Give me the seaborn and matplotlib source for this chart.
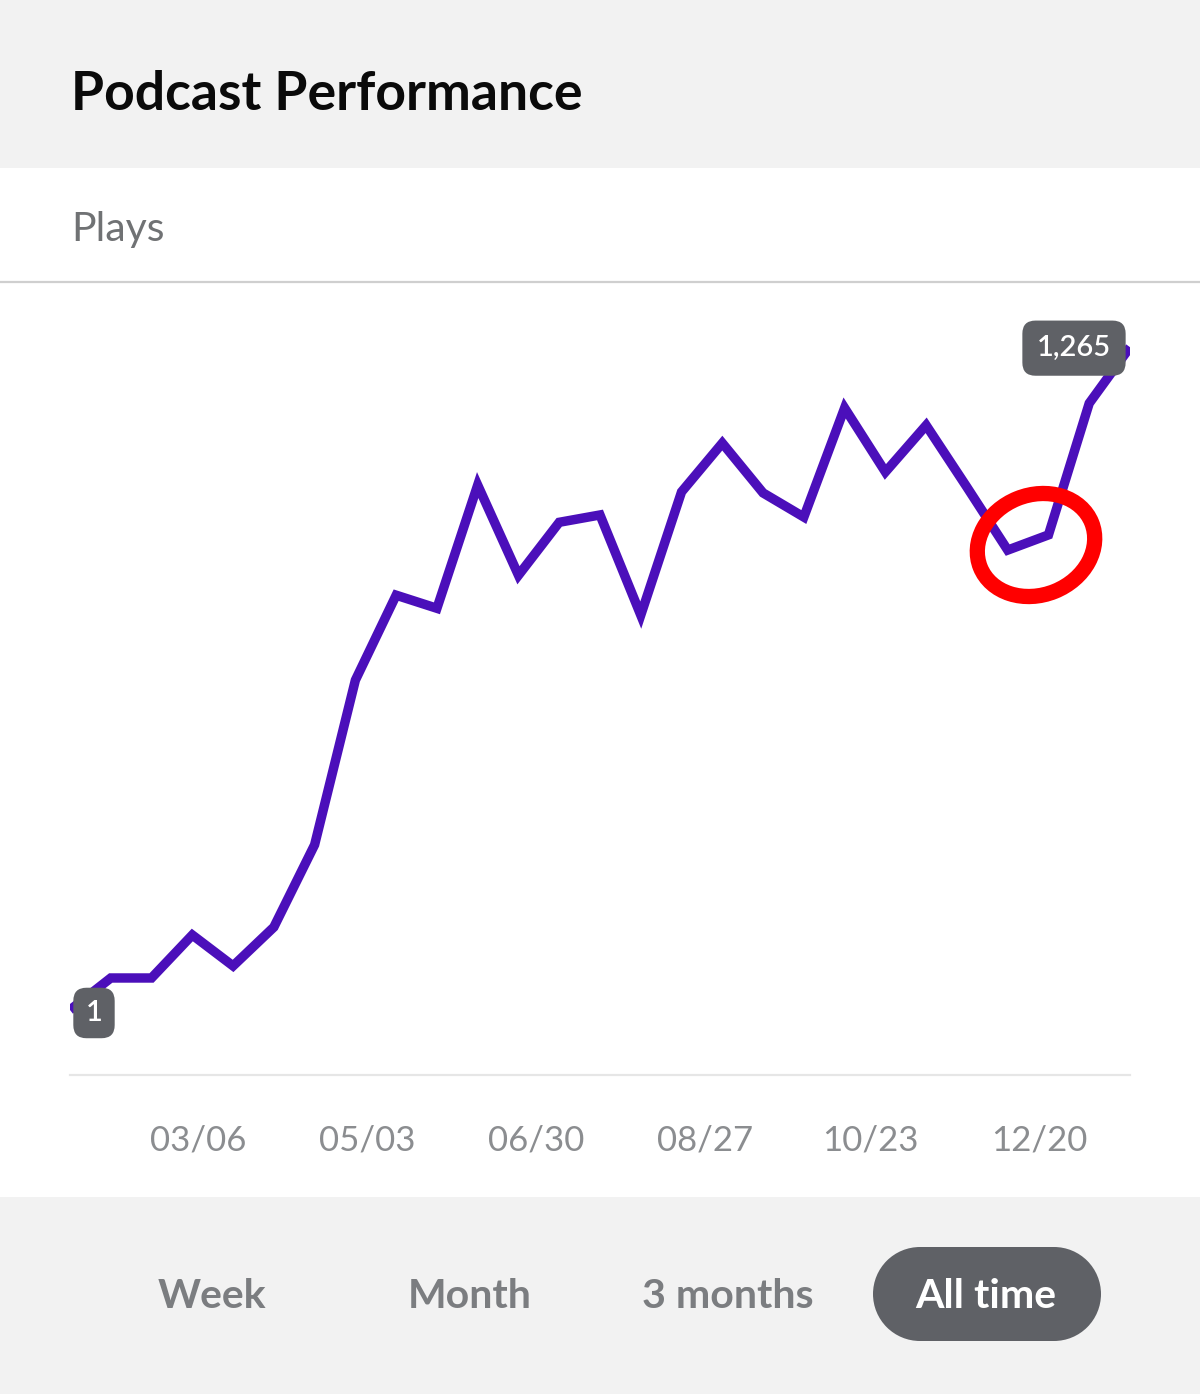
import numpy as np
import pandas as pd
import matplotlib
matplotlib.use("Agg")
import matplotlib.pyplot as plt
import matplotlib.dates as mdates
from matplotlib.patches import FancyBboxPatch, Rectangle, Ellipse
import seaborn as sns

# ---------------- data ----------------
start_date = "2020-01-22"
n_points = 27
plays = [1, 62, 62, 144, 85, 159, 316, 630, 792, 767, 1002, 830, 931, 945,
         754, 989, 1082, 987, 941, 1149, 1027, 1116, 998, 878, 907, 1158, 1265]
tick_dates = ["2020-03-06", "2020-05-03", "2020-06-30", "2020-08-27",
              "2020-10-23", "2020-12-20"]
tick_labels = ["03/06", "05/03", "06/30", "08/27", "10/23", "12/20"]
buttons = ["Week", "Month", "3 months", "All time"]
title = "Podcast Performance"
metric = "Plays"

dates = pd.date_range(start_date, periods=n_points, freq="14D")
df = pd.DataFrame({"date": dates, "plays": plays})

# ---------------- style ----------------
sns.set_theme(style="white")
plt.rcParams["font.family"] = ["Lato", "DejaVu Sans"]

W, H = 1200, 1394
fig = plt.figure(figsize=(W / 100, H / 100), dpi=100)
fig.patch.set_facecolor("white")

# background / chrome axes in pixel coordinates
bg = fig.add_axes([0, 0, 1, 1], zorder=0)
bg.set_xlim(0, W)
bg.set_ylim(H, 0)
bg.axis("off")
bg.add_patch(Rectangle((0, 0), W, 168, facecolor="#f2f2f2", edgecolor="none"))
bg.add_patch(Rectangle((0, 1197), W, H - 1197, facecolor="#f2f2f2", edgecolor="none"))
bg.plot([0, W], [282, 282], color="#cfcfcf", lw=1.6, solid_capstyle="butt")
bg.text(71, 95, title, fontsize=38.5, fontweight="bold", color="#0a0a0a",
        ha="left", va="center")
bg.text(71, 229, metric, fontsize=29.5, color="#707274", ha="left", va="center")

# buttons
btn_x = [212, 470, 728, 986]
for lab, bx in zip(buttons, btn_x):
    if lab == "All time":
        r = 47
        bg.add_patch(Rectangle((873 + r, 1247), 228 - 2 * r, 2 * r,
                               facecolor="#5f6166", edgecolor="none"))
        bg.add_patch(Ellipse((873 + r, 1247 + r), 2 * r, 2 * r, facecolor="#5f6166",
                             edgecolor="none"))
        bg.add_patch(Ellipse((1101 - r, 1247 + r), 2 * r, 2 * r, facecolor="#5f6166",
                             edgecolor="none"))
        col = "white"
    else:
        col = "#7b7d80"
    bg.text(bx, 1297, lab, fontsize=29.5, fontweight="bold", color=col,
            ha="center", va="center")

# ---------------- chart ----------------
left, right = 70, 1130
top, bottom = 290, 1075
ax = fig.add_axes([left / W, 1 - bottom / H, (right - left) / W, (bottom - top) / H],
                  zorder=1)
ax.set_facecolor("none")

sns.lineplot(data=df, x="date", y="plays", ax=ax, color="#4b0fba",
             linewidth=6.8, legend=False)
for ln in ax.lines:
    ln.set_solid_joinstyle("miter")
    ln.set_solid_capstyle("butt")

ax.set_xlim(dates[0], dates[-1])
ax.set_ylim(-123, 1374)
ax.set_xticks(pd.to_datetime(tick_dates))
ax.set_xticklabels(tick_labels, fontsize=25, color="#8b8d90")
ax.tick_params(axis="x", length=0, pad=36)
ax.set_yticks([])
ax.set_xlabel("")
ax.set_ylabel("")
for s in ["top", "left", "right"]:
    ax.spines[s].set_visible(False)
ax.spines["bottom"].set_color("#e6e6e6")
ax.spines["bottom"].set_linewidth(1.6)

# value tooltips at first and last points
box = dict(boxstyle="round,pad=0.5,rounding_size=0.45", facecolor="#5f6166",
           edgecolor="none")
ax.annotate(f"{plays[-1]:,}", xy=(dates[-1], plays[-1]), xytext=(-56, -1),
            textcoords="offset pixels", ha="center", va="center",
            fontsize=21, fontweight="semibold", color="white", bbox=box,
            zorder=5, annotation_clip=False)
box1 = dict(boxstyle="round,pad=0.42,rounding_size=0.45", facecolor="#5f6166",
            edgecolor="none")
ax.annotate(f"{plays[0]:,}", xy=(dates[0], plays[0]), xytext=(24, -3),
            textcoords="offset pixels", ha="center", va="center",
            fontsize=21, fontweight="semibold", color="white", bbox=box1,
            zorder=5, annotation_clip=False)

# red hand-drawn circle annotation (overlay)
ov = fig.add_axes([0, 0, 1, 1], zorder=3)
ov.set_xlim(0, W)
ov.set_ylim(H, 0)
ov.axis("off")
ov.patch.set_alpha(0)
ov.add_patch(Ellipse((1036, 545), 120, 100, angle=-22, facecolor="none",
                     edgecolor="#ff0000", linewidth=11))

fig.savefig("out.png", dpi=100)
